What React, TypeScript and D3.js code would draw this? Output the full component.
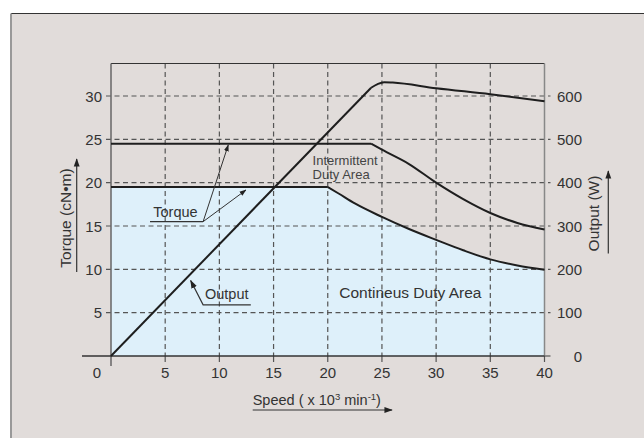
import * as d3 from 'd3'

const width = 644
const height = 438

// speed (x10^3 min-1) vs torque (cN·m) and output (W)
const speedTicks = [5, 10, 15, 20, 25, 30, 35, 40]
const torqueTicks = [5, 10, 15, 20, 25, 30]
const outputTicks = [0, 100, 200, 300, 400, 500, 600]

// torque curves: flat part, then falling part starting at the corner
const continuousFlat: [number, number][] = [[0, 19.5], [20, 19.5]]
const continuousFall: [number, number][] = [
  [20, 19.5], [21, 18.75], [22.5, 17.6], [25, 16.05], [27.5, 14.65],
  [30, 13.4], [32.5, 12.2], [35, 11.15], [37.5, 10.45], [40, 9.95],
]
const intermittentFlat: [number, number][] = [[0, 24.5], [24, 24.5]]
const intermittentFall: [number, number][] = [
  [24, 24.5], [25, 23.8], [27.5, 22.15], [30, 20], [32.5, 18.1],
  [35, 16.5], [37.5, 15.35], [40, 14.6],
]
// output in W
const outputRamp: [number, number][] = [[0, 0], [24, 619]]
const outputTop: [number, number][] = [
  [24, 619], [24.6, 627.5], [25.2, 632], [26, 631], [30, 618], [35, 604], [40, 588],
]

const font = '"Liberation Sans", Arial, sans-serif'
const ink = '#333'

type P = [number, number]

export default function App() {
  const x = d3.scaleLinear([0, 40], [111, 544.5])
  const y = d3.scaleLinear([0, 33.75], [356, 63.5])
  const yR = d3.scaleLinear([0, 675], [356, 63.5])

  const straight = d3.line<P>().x(d => x(d[0])).y(d => y(d[1]))
  const smooth = d3.line<P>().x(d => x(d[0])).y(d => y(d[1])).curve(d3.curveMonotoneX)
  const outStraight = d3.line<P>().x(d => x(d[0])).y(d => yR(d[1]))
  const outSmooth = d3.line<P>().x(d => x(d[0])).y(d => yR(d[1])).curve(d3.curveMonotoneX)
  const areaFlat = d3.area<P>().x(d => x(d[0])).y0(y(0)).y1(d => y(d[1]))
  const areaFall = d3.area<P>().x(d => x(d[0])).y0(y(0)).y1(d => y(d[1])).curve(d3.curveMonotoneX)

  const [x0, x1] = x.range()
  const [yBottom, yTop] = y.range()
  const dash = '5,3.5'
  const curveStyle = { fill: 'none', stroke: '#1e1e1e', strokeWidth: 2, strokeLinejoin: 'round' as const }

  return (
    <svg
      width={width}
      height={height}
      style={{ position: 'absolute', left: 0, top: 0, display: 'block' }}
      fontFamily={font}
    >
      <defs>
        <marker id="ah" viewBox="0 0 10 10" refX="9" refY="5" markerWidth="7" markerHeight="7" orient="auto-start-reverse">
          <path d="M0,1.5 L10,5 L0,8.5 z" fill="#222" />
        </marker>
      </defs>
      <rect width={width} height={height} fill="#fff" />
      <rect x={11} y={13.5} width={width} height={height} fill="#e1dcda" />
      <line x1={11} x2={width} y1={13.5} y2={13.5} stroke="#333" />
      <line x1={11} x2={11} y1={13.5} y2={height} stroke="#999" strokeWidth={2} />

      {/* continuous duty area */}
      <path d={areaFlat(continuousFlat) ?? ''} fill="#def0fa" />
      <path d={areaFall(continuousFall) ?? ''} fill="#def0fa" stroke="#def0fa" strokeWidth={0.5} />

      {/* grid */}
      {torqueTicks.map(t => (
        <line key={'h' + t} x1={x0 - 5} x2={x1 + 6} y1={y(t)} y2={y(t)} stroke="#555" strokeWidth={1.2} strokeDasharray={dash} />
      ))}
      {speedTicks.slice(0, -1).map(t => (
        <line key={'v' + t} x1={x(t)} x2={x(t)} y1={yTop} y2={yBottom} stroke="#555" strokeWidth={1.2} strokeDasharray={dash} />
      ))}
      {speedTicks.map(t => (
        <line key={'t' + t} x1={x(t)} x2={x(t)} y1={yBottom} y2={yBottom + 6} stroke="#555" strokeWidth={1.2} />
      ))}
      <line x1={x1} x2={x1 + 6} y1={yBottom} y2={yBottom} stroke="#555" strokeWidth={1.2} />

      {/* frame */}
      <line x1={x0} x2={x1} y1={yTop} y2={yTop} stroke="#333" strokeWidth={1.2} />
      <line x1={x0} x2={x0} y1={yTop} y2={yBottom + 10} stroke="#666" strokeWidth={1.5} />
      <line x1={x1} x2={x1} y1={yTop} y2={yBottom} stroke="#888" strokeWidth={1.5} />
      <line x1={x0 - 29} x2={x1} y1={yBottom} y2={yBottom} stroke="#333" strokeWidth={1.3} />

      {/* curves */}
      <path d={straight(intermittentFlat) ?? ''} {...curveStyle} />
      <path d={smooth(intermittentFall) ?? ''} {...curveStyle} />
      <path d={straight(continuousFlat) ?? ''} {...curveStyle} />
      <path d={smooth(continuousFall) ?? ''} {...curveStyle} />
      <path d={outStraight(outputRamp) ?? ''} {...curveStyle} />
      <path d={outSmooth(outputTop) ?? ''} {...curveStyle} />

      {/* tick labels */}
      <g fontSize={15} fill={ink}>
        {torqueTicks.map(t => (
          <text key={'l' + t} x={x0 - 9} y={y(t)} textAnchor="end" dominantBaseline="central">{t}</text>
        ))}
        <text x={x0 - 14} y={yBottom + 16} textAnchor="middle" dominantBaseline="central">0</text>
        {speedTicks.map(t => (
          <text key={'b' + t} x={x(t)} y={yBottom + 16} textAnchor="middle" dominantBaseline="central">{t}</text>
        ))}
        {outputTicks.map(t => (
          <text key={'r' + t} x={x1 + 37.5} y={yR(t)} textAnchor="end" dominantBaseline="central">{t}</text>
        ))}
      </g>

      {/* axis titles */}
      <g fill={ink}>
        <text transform="translate(65,218) rotate(-90)" textAnchor="middle" dominantBaseline="central" fontSize={15.5}>
          Torque (cN•m)
        </text>
        <line x1={76.7} x2={76.7} y1={272} y2={159} stroke="#333" strokeWidth={1.2} markerEnd="url(#ah)" />
        <text transform="translate(593.5,213.5) rotate(-90)" textAnchor="middle" dominantBaseline="central" fontSize={15.5}>
          Output (W)
        </text>
        <line x1={608.3} x2={608.3} y1={253.5} y2={171} stroke="#333" strokeWidth={1.2} markerEnd="url(#ah)" />
        <text x={252.7} y={404.5} fontSize={14.5}>
          Speed ( x 10<tspan fontSize={9.5} dy={-5}>3</tspan>
          <tspan dy={5}> min</tspan>
          <tspan fontSize={9.5} dy={-5}>-1</tspan>
          <tspan dy={5}>)</tspan>
        </text>
        <line x1={252.7} x2={392} y1={410} y2={410} stroke="#333" strokeWidth={1.2} markerEnd="url(#ah)" />
      </g>

      {/* annotations */}
      <g fill={ink} stroke="none">
        <text x={x(3.9)} y={y(16.65)} fontSize={14.5} dominantBaseline="central">Torque</text>
        <polyline points={`${x(3.6)},${y(15.5)} ${x(8.5)},${y(15.5)}`} fill="none" stroke="#333" strokeWidth={1.2} />
        <line x1={x(8.5)} y1={y(15.5)} x2={x(10.82)} y2={y(24.35)} stroke="#333" strokeWidth={1} markerEnd="url(#ah)" />
        <line x1={x(8.5)} y1={y(15.5)} x2={x(12.45)} y2={y(19.15)} stroke="#333" strokeWidth={1} markerEnd="url(#ah)" />

        <text x={x(8.67)} y={y(7.12)} fontSize={14.5} dominantBaseline="central">Output</text>
        <polyline points={`${x(7.35)},${y(8.7)} ${x(8.5)},${y(5.9)} ${x(12.9)},${y(5.9)}`} fill="none" stroke="#333" strokeWidth={1.2} markerStart="url(#ah)" />

        <text x={x(18.6)} y={y(22.55)} fontSize={13} fill="#444" dominantBaseline="central">Intermittent</text>
        <text x={x(18.6)} y={y(20.9)} fontSize={13} fill="#444" dominantBaseline="central">Duty Area</text>
        <text x={x(21.06)} y={y(7.35)} fontSize={15.5} fill="#333" dominantBaseline="central">Contineus Duty Area</text>
      </g>
    </svg>
  )
}
